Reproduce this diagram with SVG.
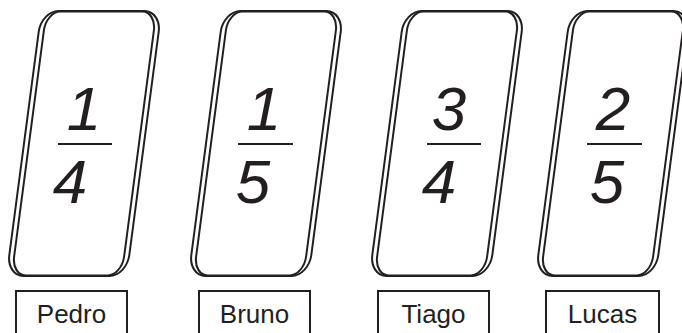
<svg xmlns="http://www.w3.org/2000/svg" width="682" height="333" viewBox="0 0 682 333">
  <style>
    .card { fill: none; stroke: #231f20; stroke-width: 2; }
    .bar { stroke: #231f20; stroke-width: 2; }
    .num { font-family: "Liberation Sans", Arial, sans-serif; font-style: italic; font-size: 62px; fill: #231f20; text-anchor: middle; }
    .box { fill: none; stroke: #231f20; stroke-width: 2; }
    .name { font-family: "Liberation Sans", Arial, sans-serif; font-size: 26px; fill: #231f20; text-anchor: middle; }
  </style>
  <defs>
    <g id="cardShape">
      <rect x="-60" y="-132.5" width="120" height="265" rx="17" ry="21" fill="#fff" class="card"/>
      <rect x="-55" y="-132" width="110" height="264" rx="14" ry="19" class="card"/>
    </g>
  </defs>
  <rect width="682" height="333" fill="#fff"/>

  <g id="pedro">
    <use href="#cardShape" transform="translate(84,143.5) skewX(-7.5)"/>
    <text class="num" x="84" y="130">1</text>
    <line class="bar" x1="58" y1="144" x2="112" y2="144"/>
    <text class="num" x="70" y="203">4</text>
    <rect class="box" x="16" y="291" width="111" height="60"/>
    <text class="name" x="71.5" y="323">Pedro</text>
  </g>

  <g id="bruno">
    <use href="#cardShape" transform="translate(266,143.5) skewX(-7.5)"/>
    <text class="num" x="264" y="130">1</text>
    <line class="bar" x1="238" y1="144" x2="293" y2="144"/>
    <text class="num" x="253" y="203">5</text>
    <rect class="box" x="199" y="291" width="111" height="60"/>
    <text class="name" x="254.5" y="323">Bruno</text>
  </g>

  <g id="tiago">
    <use href="#cardShape" transform="translate(447,143.5) skewX(-7.5)"/>
    <text class="num" x="449" y="130">3</text>
    <line class="bar" x1="427" y1="144" x2="481" y2="144"/>
    <text class="num" x="439" y="203">4</text>
    <rect class="box" x="378" y="291" width="111" height="60"/>
    <text class="name" x="433.5" y="323">Tiago</text>
  </g>

  <g id="lucas">
    <use href="#cardShape" transform="translate(613,143.5) skewX(-7.5)"/>
    <text class="num" x="613" y="130">2</text>
    <line class="bar" x1="587" y1="144" x2="642" y2="144"/>
    <text class="num" x="607" y="203">5</text>
    <rect class="box" x="546" y="291" width="113" height="60"/>
    <text class="name" x="602.5" y="323">Lucas</text>
  </g>

  <g id="connectors"/>
</svg>
